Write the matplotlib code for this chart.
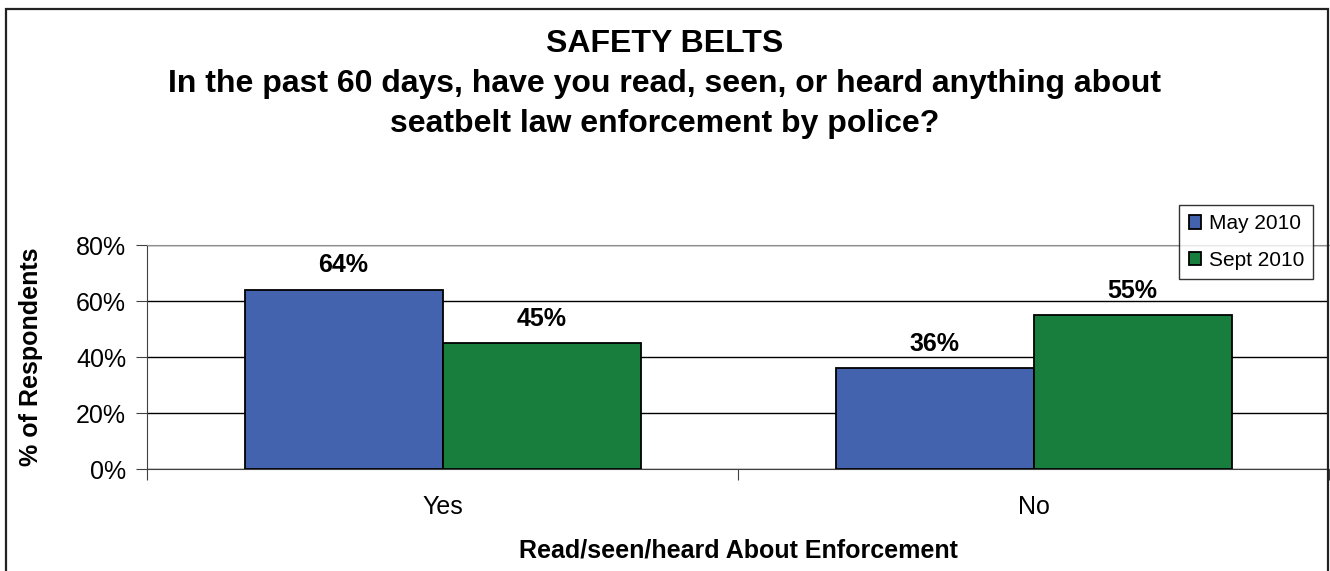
import numpy as np
import matplotlib.pyplot as plt
from matplotlib.patches import Rectangle

plt.rcParams['font.family'] = ['Liberation Sans', 'DejaVu Sans']

categories = ['Yes', 'No']
series_names = ['May 2010', 'Sept 2010']
may_2010 = [64, 36]
sept_2010 = [45, 55]
colors = ['#4463AE', '#177E3E']

fig = plt.figure(figsize=(13.3, 5.71), dpi=100)
ax = fig.add_axes([0.1105, 0.1786, 0.889, 0.3923])

x = np.arange(len(categories))
w = 0.335
for i, (vals, name, c) in enumerate(zip([may_2010, sept_2010], series_names, colors)):
    pos = x + (i - 0.5) * w
    ax.bar(pos, vals, w, color=c, edgecolor='black', linewidth=1.3, label=name, zorder=3)
    for p, v in zip(pos, vals):
        ax.annotate(f'{v}%', (p, v), xytext=(0, 9), textcoords='offset points',
                    ha='center', va='bottom', fontsize=18, fontweight='bold')

ax.set_xlim(-0.5, 1.5)
ax.set_ylim(0, 80)
ax.set_yticks(range(0, 81, 20))
ax.set_yticklabels([f'{t}%' for t in range(0, 81, 20)], fontsize=18)
ax.yaxis.grid(True, color='black', linewidth=1, zorder=0)
ax.set_xticks([-0.5, 0.5, 1.5])
ax.set_xticklabels([])
ax.set_xticks(x, minor=True)
ax.set_xticklabels(categories, minor=True, fontsize=18)
ax.tick_params(axis='x', which='minor', length=0, pad=19)
ax.tick_params(axis='x', which='major', length=8, color='#404040')
ax.tick_params(axis='y', length=8, color='#404040', pad=7)
ax.spines['top'].set_color('#909090')
ax.spines['right'].set_visible(False)
ax.spines['left'].set_color('#404040')
ax.spines['bottom'].set_color('#404040')

ax.set_ylabel('% of Respondents', fontsize=18, fontweight='bold')
ax.yaxis.set_label_coords(-0.088, 0.5)
ax.set_xlabel('Read/seen/heard About Enforcement', fontsize=18, fontweight='bold')
ax.xaxis.set_label_coords(0.5, -0.312)

fig.text(0.5, 0.853, 'SAFETY BELTS\nIn the past 60 days, have you read, seen, or heard anything about\nseatbelt law enforcement by police?',
         ha='center', va='center', fontsize=23, fontweight='bold', linespacing=1.45)

leg = ax.legend(loc='upper right', bbox_to_anchor=(0.9865, 1.1786), borderaxespad=0,
                fontsize=15, frameon=True, fancybox=False, edgecolor='black',
                handlelength=0.6, handleheight=0.6, borderpad=0.45, labelspacing=0.85,
                handletextpad=0.35)
leg.get_frame().set_linewidth(1)

fig.patches.append(Rectangle((0.0048, -0.01), 0.994, 0.9934, transform=fig.transFigure,
                             fill=False, edgecolor='#222222', linewidth=1.6))

fig.savefig('out.png', dpi=100)
